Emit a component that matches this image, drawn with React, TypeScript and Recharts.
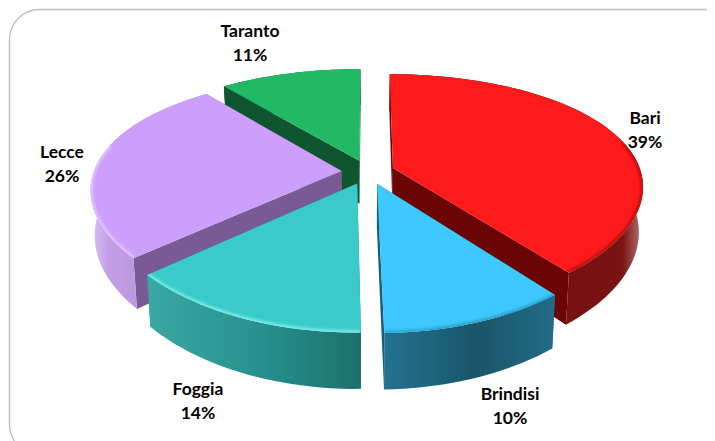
import { Pie, PieChart } from 'recharts';

const provinces = ['Bari', 'Brindisi', 'Foggia', 'Lecce', 'Taranto'];
const shares = [39.4, 10.3, 13.7, 25.9, 10.7];
const paintOrder = ['Taranto', 'Lecce', 'Bari', 'Foggia', 'Brindisi'];

const topColors = ['#fd1a1a', '#3dc9fd', '#3bcaca', '#cb9ffb', '#22b966'];
const edgeColors = ['#6b0505', '#1c5f78', '#1f7d7a', '#7a5a94', '#0e5530'];
const rimColors = ['#b00a0a', '#2a9fc8', '#7ff0ee', '#e4ccff', '#22b966'];
const wallStops = [
  ['#6a0707', '#7a1414', '#b87a7a'],
  ['#217391', '#1a5568', '#236c88'],
  ['#3aa8a3', '#26908c', '#1c706c'],
  ['#dcc4f6', '#c49ee8', '#a886cc'],
  ['#0e5530', '#0e5530', '#0e5530'],
];
const wallMidStops = [92, 55, 55, 15, 50];
const labelSpots = [
  [645, 124],
  [510, 400],
  [198, 395],
  [62, 158],
  [250, 37],
];

const pieData = provinces.map((name, i) => ({ name, value: shares[i] }));

// fake 3d: tilt + perspective on the unit circle of the pie
const TILT = 0.46;
const PERSPECTIVE_Y = 0.2;
const PERSPECTIVE_X = 0.15;
const EXPLODE = 0.107;
const DEPTH = 44;

function Wedge(props: any) {
  const { cx, cy, outerRadius, startAngle, endAngle, midAngle, index } = props;
  const R = outerRadius;
  const ox = EXPLODE * Math.cos((midAngle * Math.PI) / 180);
  const oy = EXPLODE * Math.sin((midAngle * Math.PI) / 180);

  const project = (a: number, r: number, low: boolean) => {
    const X = ox + r * Math.cos((a * Math.PI) / 180);
    const Y = oy + r * Math.sin((a * Math.PI) / 180);
    const wy = 1 + PERSPECTIVE_Y * Y;
    const wx = 1 + PERSPECTIVE_X * Y;
    const shrink = low ? 0.985 : 1;
    return {
      x: cx + (shrink * R * X) / wx,
      y: cy - (TILT * R * Y) / wy + (low ? DEPTH / wy : 0),
    };
  };

  const steps = Math.max(2, Math.ceil(Math.abs(endAngle - startAngle) / 2));
  const angles = Array.from({ length: steps + 1 }, (_, i) => startAngle + ((endAngle - startAngle) * i) / steps);
  const str = (pts: { x: number; y: number }[]) => pts.map((p) => `${p.x},${p.y}`).join(' ');

  const apexTop = project(0, 0, false);
  const apexLow = project(0, 0, true);
  const arcTop = angles.map((a) => project(a, 1, false));
  const arcLow = angles.map((a) => project(a, 1, true));
  // the soft rim only shows on the part of the edge that faces the viewer
  const rim = angles.filter((a) => Math.sin((a * Math.PI) / 180) < 0.25).map((a) => project(a, 1, false));
  const xs = arcTop.map((p) => p.x);
  const id = `wall-${index}`;
  const stops = wallStops[index];

  return (
    <g>
      <defs>
        <linearGradient id={id} gradientUnits="userSpaceOnUse" x1={Math.min(...xs)} x2={Math.max(...xs)} y1={0} y2={0}>
          <stop offset="0%" stopColor={stops[0]} />
          <stop offset={`${wallMidStops[index]}%`} stopColor={stops[1]} />
          <stop offset="100%" stopColor={stops[2]} />
        </linearGradient>
        <filter id={`soft-${index}`} x="-10%" y="-10%" width="120%" height="120%">
          <feGaussianBlur stdDeviation="1.4" />
        </filter>
        <clipPath id={`top-${index}`}>
          <polygon points={str([apexTop, ...arcTop])} />
        </clipPath>
      </defs>
      <polygon points={str([apexTop, arcTop[0], arcLow[0], apexLow])} fill={edgeColors[index]} />
      <polygon points={str([apexTop, arcTop[steps], arcLow[steps], apexLow])} fill={edgeColors[index]} />
      <polygon points={str([...arcTop, ...[...arcLow].reverse()])} fill={`url(#${id})`} />
      <polygon points={str([apexTop, ...arcTop])} fill={topColors[index]} />
      <g clipPath={`url(#top-${index})`}>
        <polyline
          points={str(rim)}
          fill="none"
          stroke={rimColors[index]}
          strokeWidth={4}
          filter={`url(#soft-${index})`}
        />
      </g>
    </g>
  );
}

function SliceLabel(props: any) {
  const { index, percent } = props;
  const [x, y] = labelSpots[index];
  return (
    <text x={x} y={y} textAnchor="middle" fontFamily="Lato" fontWeight={700} fontSize={17.5} fill="#000">
      <tspan x={x} dy={0}>{provinces[index]}</tspan>
      <tspan x={x} dy={23.5}>{`${Math.round(percent * 100)}%`}</tspan>
    </text>
  );
}

export default function App() {
  return (
    <div style={{ position: 'relative', margin: '-8px 0 0 -8px', width: 715, height: 441, overflow: 'hidden', background: '#fff' }}>
      <PieChart width={715} height={441} margin={{ top: 0, right: 0, bottom: 0, left: 0 }}>
        <rect x={9.5} y={9.5} width={726} height={445} rx={30} ry={30} fill="#fff" stroke="#c0c0c0" strokeWidth={1.4} />
        {paintOrder.map((name) => (
          <Pie
            key={name}
            data={pieData}
            dataKey="value"
            nameKey="name"
            cx={368}
            cy={172}
            outerRadius={248}
            startAngle={90}
            endAngle={-270}
            isAnimationActive={false}
            stroke="none"
            labelLine={false}
            label={name === 'Brindisi' ? SliceLabel : false}
            shape={(p: any) => (provinces[p.index] === name ? <Wedge {...p} /> : <g />)}
          />
        ))}
      </PieChart>
      <div
        style={{
          position: 'absolute',
          left: 280,
          top: -21,
          zIndex: 5,
          whiteSpace: 'nowrap',
          fontFamily: 'Lato',
          fontWeight: 700,
          fontSize: 23,
          lineHeight: '23px',
          color: '#000',
        }}
      >
        Imprese attive per provincia
      </div>
    </div>
  );
}
